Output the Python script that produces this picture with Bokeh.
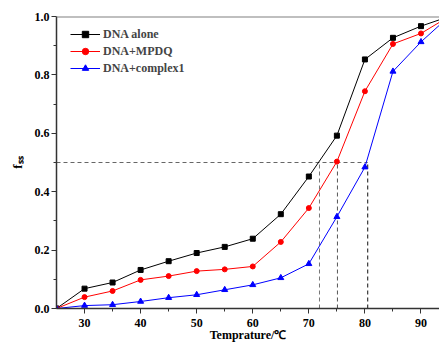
from bokeh.plotting import figure
from bokeh.models import Span, FixedTicker, Range1d, CustomJSTickFormatter
from bokeh.embed import file_html
from bokeh.resources import INLINE

temps = [25, 30, 35, 40, 45, 50, 55, 60, 65, 70, 75, 80, 85, 90, 95]
dna_alone = [0.0, 0.068, 0.089, 0.132, 0.162, 0.190, 0.211, 0.239, 0.323, 0.452, 0.592, 0.853, 0.927, 0.967, 1.0]
dna_mpdq = [0.0, 0.039, 0.060, 0.098, 0.111, 0.128, 0.134, 0.144, 0.228, 0.344, 0.503, 0.744, 0.906, 0.942, 1.0]
dna_complex1 = [0.0, 0.010, 0.013, 0.024, 0.037, 0.047, 0.064, 0.081, 0.105, 0.153, 0.314, 0.484, 0.812, 0.913, 1.0]
half_value = 0.5
tm_values = [71.9, 75.1, 80.5]
tm_colors = ["#777777", "#555555", "#111111"]
x_ticks = [30, 40, 50, 60, 70, 80, 90]
x_minor = [35, 45, 55, 65, 75, 85]
y_ticks = [0.0, 0.2, 0.4, 0.6, 0.8, 1.0]
y_minor = [0.1, 0.3, 0.5, 0.7, 0.9]
x_title = "Temprature/\u2103"
y_title = "f\u209b\u209b"

FONT = "Liberation Serif"

p = figure(width=439, height=345, output_backend="svg", toolbar_location=None,
           x_range=Range1d(25, 93.3), y_range=Range1d(0, 1.0),
           min_border_left=56, min_border_right=0, min_border_top=16, min_border_bottom=37)
p.outline_line_color = None
p.xgrid.visible = False
p.ygrid.visible = False
p.background_fill_color = "white"

# top border
p.add_layout(Span(location=1.0, dimension="width", line_color="#808080", line_width=2))

# reference dashed lines
p.line([temps[0], tm_values[-1]], [half_value, half_value], line_color="#666666",
       line_dash="4 3", line_width=1)
for tm, c in zip(tm_values, tm_colors):
    p.line([tm, tm], [0, half_value], line_color=c, line_dash="4 3", line_width=1)

series = [
    (dna_alone, "black", "square", 5, "DNA alone"),
    (dna_mpdq, "red", "circle", 5, "DNA+MPDQ"),
    (dna_complex1, "blue", "triangle", 6, "DNA+complex1"),
]
for ys, col, mk, sz, lab in series:
    p.line(temps, ys, line_color=col, line_width=1, legend_label=lab)
    p.scatter(temps[:-1], ys[:-1], marker=mk, size=sz, color=col, legend_label=lab)

for ax in (p.xaxis[0], p.yaxis[0]):
    ax.axis_line_color = "#333333"
    ax.axis_line_width = 1.5
    ax.major_tick_line_color = "#333333"
    ax.minor_tick_line_color = "#333333"
    ax.major_tick_in = 0
    ax.major_tick_out = 5
    ax.minor_tick_in = 0
    ax.minor_tick_out = 3
    ax.major_label_text_font = FONT
    ax.major_label_text_font_style = "bold"
    ax.major_label_text_font_size = "12px"
    ax.major_label_text_color = "black"
    ax.axis_label_text_font = FONT
    ax.axis_label_text_font_style = "bold"
    ax.axis_label_text_font_size = "12px"
    ax.axis_label_text_color = "black"

p.xaxis.ticker = FixedTicker(ticks=x_ticks, minor_ticks=x_minor)
p.yaxis.ticker = FixedTicker(ticks=y_ticks, minor_ticks=y_minor)
p.yaxis.formatter = CustomJSTickFormatter(code="return tick.toFixed(1);")
p.xaxis.major_label_standoff = 5
p.yaxis.major_label_standoff = 2

p.xaxis.axis_label = x_title
p.xaxis.axis_label_standoff = -2
p.yaxis.axis_label = y_title
p.yaxis.axis_label_standoff = 7
p.yaxis.axis_label_text_font_size = "13px"

lg = p.legend[0]
lg.location = (14, 232)
lg.margin = 0
lg.padding = 4
lg.border_line_color = None
lg.background_fill_alpha = 0
lg.glyph_width = 30
lg.glyph_height = 16
lg.label_height = 16
lg.spacing = 1
lg.label_standoff = 3
lg.label_text_font = FONT
lg.label_text_font_style = "bold"
lg.label_text_font_size = "12px"

open("out.html", "w").write(file_html(p, INLINE))
